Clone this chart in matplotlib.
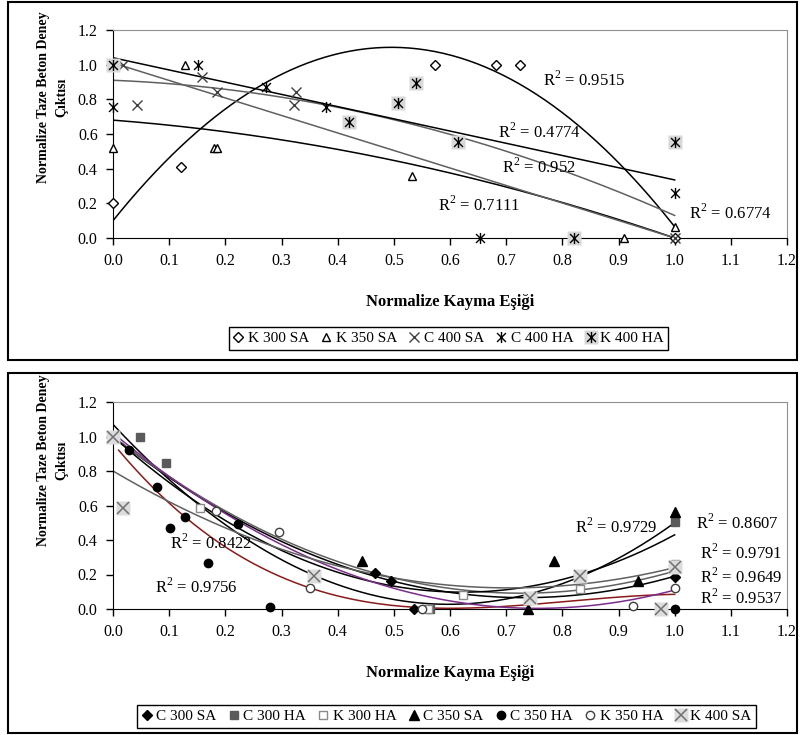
import matplotlib.pyplot as plt
import numpy as np
from matplotlib.path import Path
from matplotlib.patches import Rectangle
from matplotlib.legend_handler import HandlerTuple

plt.rcParams['font.family'] = ['Liberation Serif', 'DejaVu Serif']
plt.rcParams['mathtext.fontset'] = 'custom'
plt.rcParams['mathtext.rm'] = 'Liberation Serif'

# ---- top chart data ----
k300sa_x = [0.0, 0.121, 0.574, 0.682, 0.725, 1.0]
k300sa_y = [0.20, 0.408, 1.0, 1.0, 1.0, 0.0]
k350sa_x = [0.0, 0.128, 0.179, 0.185, 0.532, 0.91, 1.0]
k350sa_y = [0.52, 1.0, 0.52, 0.52, 0.36, 0.0, 0.065]
c400sa_x = [0.017, 0.042, 0.159, 0.185, 0.323, 0.325, 1.0]
c400sa_y = [1.0, 0.767, 0.927, 0.844, 0.767, 0.844, 0.0]
c400ha_x = [0.0, 0.151, 0.272, 0.38, 0.653, 1.0]
c400ha_y = [0.754, 1.0, 0.873, 0.754, 0.0, 0.261]
k400ha_x = [0.0, 0.42, 0.508, 0.539, 0.615, 0.82, 1.0]
k400ha_y = [1.0, 0.671, 0.777, 0.892, 0.556, 0.0, 0.556]

# trendline coefficients (a + b x + c x^2 ...)
top_trends = {
    'K 300 SA': [0.10, 4.035, -4.07],
    'K 350 SA': [0.68, -0.25, -0.43],
    'C 400 SA': [1.01, -1.01],
    'C 400 HA': [0.91, -0.13, -0.65],
    'K 400 HA': [1.04, -0.705],
}
top_trend_colors = ['black', 'black', '#606060', '#606060', 'black']
top_r2 = ['0.9515', '0.4774', '0.952', '0.7111', '0.6774']
top_r2_pos = [(0.766, 0.91), (0.685, 0.61), (0.692, 0.41), (0.579, 0.19), (1.026, 0.145)]

# ---- bottom chart data ----
c300sa_x = [0.0, 0.466, 0.495, 0.536, 1.0]
c300sa_y = [1.0, 0.207, 0.16, 0.0, 0.187]
c300ha_x = [0.048, 0.094, 0.565, 1.0]
c300ha_y = [1.0, 0.845, 0.0, 0.506]
k300ha_x = [0.0, 0.155, 0.56, 0.624, 0.831, 1.0]
k300ha_y = [1.0, 0.584, 0.0, 0.081, 0.114, 0.26]
c350sa_x = [0.0, 0.443, 0.739, 0.786, 0.935, 1.0]
c350sa_y = [1.0, 0.278, 0.0, 0.278, 0.162, 0.564]
c350ha_x = [0.029, 0.078, 0.101, 0.129, 0.17, 0.222, 0.28, 1.0]
c350ha_y = [0.922, 0.705, 0.468, 0.531, 0.268, 0.491, 0.01, 0.0]
k350ha_x = [0.0, 0.183, 0.296, 0.35, 0.55, 0.926, 1.0]
k350ha_y = [1.0, 0.57, 0.445, 0.12, 0.0, 0.02, 0.12]
k400sa_x = [0.0, 0.018, 0.358, 0.742, 0.831, 0.975, 1.0]
k400sa_y = [1.0, 0.584, 0.191, 0.062, 0.191, 0.0, 0.242]

bot_trends = {
    'C 300 SA': [1.0, -2.55, 1.74],
    'C 300 HA': [1.07, -3.49, 2.92],
    'K 300 HA': [1.0, -2.5, 1.72],
    'C 350 SA': [1.0, -2.9, 2.33],
    'C 350 HA': [0.96, -3.962, 5.24, -2.153],
    'K 350 HA': [1.02, -2.69, 1.78],
    'K 400 SA': [0.8, -1.92, 1.36],
}
bot_trend_colors = ['black', 'black', '#606060', 'black', '#8b1a1a', '#7b2c8c', '#606060']
bot_trend_start = [0.0, 0.0, 0.0, 0.0, 0.01, 0.0, 0.0]
bot_r2 = ['0.9729', '0.8607', '0.9791', '0.9649', '0.9537', '0.8422', '0.9756']
bot_r2_pos = [(0.822, 0.477), (1.038, 0.497), (1.045, 0.323), (1.045, 0.187),
              (1.045, 0.062), (0.101, 0.381), (0.075, 0.129)]

xticks = np.arange(0, 1.21, 0.1)
yticks = np.arange(0, 1.21, 0.2)

# asterisk marker: an X with a vertical bar
ast = Path([(-1, -1), (1, 1), (-1, 1), (1, -1), (0, -1.25), (0, 1.25)],
           [Path.MOVETO, Path.LINETO, Path.MOVETO, Path.LINETO, Path.MOVETO, Path.LINETO])

fig = plt.figure(figsize=(8, 7.35), dpi=100)

def px(x0, y0, x1, y1):
    return [x0 / 800, 1 - y1 / 735, (x1 - x0) / 800, (y1 - y0) / 735]

def style_axes(ax):
    ax.set_xlim(0, 1.2)
    ax.set_ylim(0, 1.2)
    ax.set_xticks(xticks)
    ax.set_yticks(yticks)
    ax.set_xticklabels(['%.1f' % v for v in xticks])
    ax.set_yticklabels(['%.1f' % v for v in yticks])
    ax.tick_params(direction='out', length=5, width=1, labelsize=11.5, pad=6)
    for s in ['top', 'right']:
        ax.spines[s].set_color('#909090')
    for s in ['left', 'bottom']:
        ax.spines[s].set_color('black')
    ax.set_xlabel('Normalize Kayma Eşiği', fontsize=12, fontweight='bold', labelpad=18)

def trend(ax, coefs, color, x0=0.0):
    xs = np.linspace(x0, 1.0, 200)
    ys = np.polynomial.polynomial.polyval(xs, coefs)
    ax.plot(xs, ys, color=color, lw=1.1, zorder=2)

# ---- panel borders ----
for r in [px(8, 2, 797, 360), px(8, 373, 797, 733)]:
    fig.patches.append(Rectangle((r[0], r[1]), r[2], r[3], transform=fig.transFigure,
                                 fill=False, edgecolor='black', lw=1.5))

mk = dict(linestyle='none', zorder=3, clip_on=False)
leg_kw = dict(handler_map={tuple: HandlerTuple(ndivide=1)}, loc='center', fontsize=11,
              frameon=True, fancybox=False, edgecolor='black', handlelength=0.7,
              handletextpad=0.25, columnspacing=0.8, borderpad=0.3, framealpha=1)

# ---- top chart ----
ax1 = fig.add_axes(px(113, 30, 787, 238))
style_axes(ax1)
for (name, c), col in zip(top_trends.items(), top_trend_colors):
    trend(ax1, c, col)
h1 = ax1.plot(k300sa_x, k300sa_y, marker='D', ms=5, mfc='white', mec='black', mew=1, **mk)[0]
h2 = ax1.plot(k350sa_x, k350sa_y, marker='^', ms=6, mfc='white', mec='black', mew=1, **mk)[0]
h3 = ax1.plot(c400sa_x, c400sa_y, marker='x', ms=7, mec='#404040', mew=1, **mk)[0]
h4 = ax1.plot(c400ha_x, c400ha_y, marker=ast, ms=8, mec='black', mew=1, **mk)[0]
h5a = ax1.plot(k400ha_x, k400ha_y, marker='s', ms=10, mfc='#d8d8d8', mec='none', **mk)[0]
h5b = ax1.plot(k400ha_x, k400ha_y, marker=ast, ms=8, mec='black', mew=1, **mk)[0]
for t, (x, y) in zip(top_r2, top_r2_pos):
    ax1.text(x, y, '$\\mathrm{R}^2$ = ' + t, fontsize=12, va='center', ha='left', zorder=4)
fig.legend([h1, h2, h3, h4, (h5a, h5b)], ['K 300 SA', 'K 350 SA', 'C 400 SA', 'C 400 HA', 'K 400 HA'],
           bbox_to_anchor=(448.5 / 800, 1 - 338.5 / 735), ncol=5, **leg_kw)

# ---- bottom chart ----
ax2 = fig.add_axes(px(113, 402, 787, 609))
style_axes(ax2)
for (name, c), col, x0 in zip(bot_trends.items(), bot_trend_colors, bot_trend_start):
    trend(ax2, c, col, x0)
g1 = ax2.plot(c300sa_x, c300sa_y, marker='D', ms=5, mfc='black', mec='black', **mk)[0]
g2 = ax2.plot(c300ha_x, c300ha_y, marker='s', ms=6, mfc='#5a5a5a', mec='#5a5a5a', **mk)[0]
g3 = ax2.plot(k300ha_x, k300ha_y, marker='s', ms=6, mfc='white', mec='#8a8a8a', mew=1, **mk)[0]
g4 = ax2.plot(c350sa_x, c350sa_y, marker='^', ms=7, mfc='black', mec='black', **mk)[0]
g5 = ax2.plot(c350ha_x, c350ha_y, marker='o', ms=6, mfc='black', mec='black', **mk)[0]
g6 = ax2.plot(k350ha_x, k350ha_y, marker='o', ms=6, mfc='white', mec='#404040', mew=1, **mk)[0]
g7a = ax2.plot(k400sa_x, k400sa_y, marker='s', ms=10, mfc='#dcdcdc', mec='none', **mk)[0]
g7b = ax2.plot(k400sa_x, k400sa_y, marker='x', ms=8, mec='#707070', mew=1.1, **mk)[0]
for t, (x, y) in zip(bot_r2, bot_r2_pos):
    ax2.text(x, y, '$\\mathrm{R}^2$ = ' + t, fontsize=12, va='center', ha='left', zorder=4)
fig.legend([g1, g2, g3, g4, g5, g6, (g7a, g7b)],
           ['C 300 SA', 'C 300 HA', 'K 300 HA', 'C 350 SA', 'C 350 HA', 'K 350 HA', 'K 400 SA'],
           bbox_to_anchor=(446.5 / 800, 1 - 716.5 / 735), ncol=7, **leg_kw)

# y labels (placed high, like the original)
for yc in [97, 460]:
    fig.text(53 / 800, 1 - yc / 735, 'Normalize Taze Beton Deney\nÇıktısı', rotation=90,
             ha='center', va='center', multialignment='center', fontsize=10, fontweight='bold',
             linespacing=1.5)

fig.savefig('out.png', dpi=100)
